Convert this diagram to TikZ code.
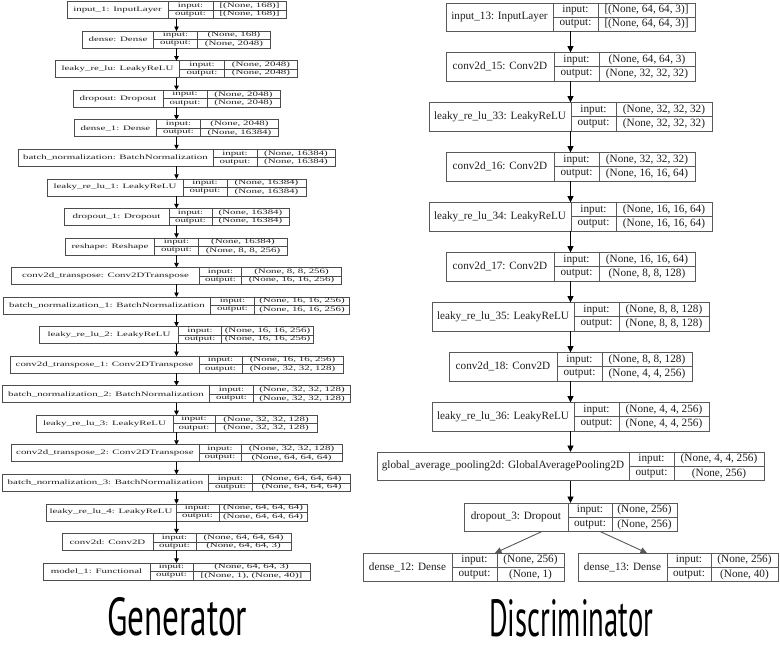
\documentclass[tikz,border=0pt]{standalone}
\usepackage{fontspec}
\usepackage{graphicx}
\setmainfont{Liberation Serif}
\newfontfamily\handfont{PT Sans}
\usetikzlibrary{arrows.meta,fit,calc}

\newcommand\tscale{1}
\newcommand\tfont{\fontsize{11}{12}\selectfont}
% #1 id, #2 centre x, #3 name width, #4 label width, #5 value width, #6 top y, #7 height, #8 name text
\newcommand\layer[8]{%
  \pgfmathsetmacro\xa{#2-(#3+#4+#5)/2}%
  \pgfmathsetmacro\xb{\xa+#3}%
  \pgfmathsetmacro\xc{\xb+#4}%
  \pgfmathsetmacro\xd{\xc+#5}%
  \pgfmathsetmacro\yt{#6}%
  \pgfmathsetmacro\yb{#6+#7}%
  \pgfmathsetmacro\ym{#6+#7/2}%
  \node[box, fit={(\xa,\yt)(\xd,\yb)}] (#1) {};
  \draw[cell] (\xb,\yt) -- (\xb,\yb) (\xc,\yt) -- (\xc,\yb) (\xb,\ym) -- (\xd,\ym);
  \node[txt] (#1-name) at ({(\xa+\xb)/2},\ym) {\scalebox{1}[\tscale]{#8}};
}
% #1 id, #2 input value, #3 output value
\newcommand\io[3]{%
  \node[txt] (#1-inl)  at ({(\xb+\xc)/2},{(\yt+\ym)/2}) {\scalebox{1}[\tscale]{input:}};
  \node[txt] (#1-outl) at ({(\xb+\xc)/2},{(\ym+\yb)/2}) {\scalebox{1}[\tscale]{output:}};
  \node[txt] (#1-in)   at ({(\xc+\xd)/2},{(\yt+\ym)/2}) {\scalebox{1}[\tscale]{#2}};
  \node[txt] (#1-out)  at ({(\xc+\xd)/2},{(\ym+\yb)/2}) {\scalebox{1}[\tscale]{#3}};
}

\begin{document}
\begin{tikzpicture}[x=1pt,y=-1pt,
  txt/.style={inner sep=0pt, text=black!88, font=\tfont},
  title/.style={inner sep=0pt, anchor=south west, font=\handfont}]
\useasboundingbox (0,0) rectangle (780,653);
\fill[white] (0,0) rectangle (780,653);

% ---------------- Generator ----------------
\renewcommand\tscale{0.62}
\renewcommand\tfont{\fontsize{10.9}{11}\selectfont}
\tikzset{
  box/.style={draw=black!70, line width=0.6pt, inner sep=0pt, outer sep=0pt},
  cell/.style={draw=black!70, line width=0.6pt},
  arr/.style={-{Triangle[length=4.5pt,width=4.5pt]}, line width=0.7pt, draw=black}}

\layer{g1}{176.5}{101}{45}{73}{1.5}{17}{input\_1: InputLayer}
\io{g1}{[(None, 168)]}{[(None, 168)]}
\layer{g2}{176.5}{71}{44}{73}{31.05}{17}{dense: Dense}
\io{g2}{(None, 168)}{(None, 2048)}
\layer{g3}{176.5}{124}{45}{73}{60.6}{17}{leaky\_re\_lu: LeakyReLU}
\io{g3}{(None, 2048)}{(None, 2048)}
\layer{g4}{176.5}{90}{44}{73}{90.15}{17}{dropout: Dropout}
\io{g4}{(None, 2048)}{(None, 2048)}
\layer{g5}{176.5}{82}{44}{78}{119.7}{17}{dense\_1: Dense}
\io{g5}{(None, 2048)}{(None, 16384)}
\layer{g6}{176.5}{195}{44}{78}{149.25}{17}{batch\_normalization: BatchNormalization}
\io{g6}{(None, 16384)}{(None, 16384)}
\layer{g7}{176.5}{136}{44}{79}{178.8}{17}{leaky\_re\_lu\_1: LeakyReLU}
\io{g7}{(None, 16384)}{(None, 16384)}
\layer{g8}{176.5}{105}{43}{77}{208.35}{17}{dropout\_1: Dropout}
\io{g8}{(None, 16384)}{(None, 16384)}
\layer{g9}{176.5}{89}{44}{89}{237.9}{17}{reshape: Reshape}
\io{g9}{(None, 16384)}{(None, 8, 8, 256)}
\layer{g10}{176.5}{188}{42}{100}{267.45}{17}{conv2d\_transpose: Conv2DTranspose}
\io{g10}{(None, 8, 8, 256)}{(None, 16, 16, 256)}
\layer{g11}{176.5}{207}{44}{95}{297}{17}{batch\_normalization\_1: BatchNormalization}
\io{g11}{(None, 16, 16, 256)}{(None, 16, 16, 256)}
\layer{g12}{176.5}{139}{43}{92}{326.55}{17}{leaky\_re\_lu\_2: LeakyReLU}
\io{g12}{(None, 16, 16, 256)}{(None, 16, 16, 256)}
\layer{g13}{176.5}{189}{43}{101}{356.1}{17}{conv2d\_transpose\_1: Conv2DTranspose}
\io{g13}{(None, 16, 16, 256)}{(None, 32, 32, 128)}
\layer{g14}{176.5}{207}{44}{97}{385.65}{17}{batch\_normalization\_2: BatchNormalization}
\io{g14}{(None, 32, 32, 128)}{(None, 32, 32, 128)}
\layer{g15}{176.5}{137}{42}{102}{415.2}{17}{leaky\_re\_lu\_3: LeakyReLU}
\io{g15}{(None, 32, 32, 128)}{(None, 32, 32, 128)}
\layer{g16}{176.5}{188}{42}{101}{444.75}{17}{conv2d\_transpose\_2: Conv2DTranspose}
\io{g16}{(None, 32, 32, 128)}{(None, 64, 64, 64)}
\layer{g17}{176.5}{206}{44}{98}{474.3}{17}{batch\_normalization\_3: BatchNormalization}
\io{g17}{(None, 64, 64, 64)}{(None, 64, 64, 64)}
\layer{g18}{176.5}{130}{43}{88}{503.85}{17}{leaky\_re\_lu\_4: LeakyReLU}
\io{g18}{(None, 64, 64, 64)}{(None, 64, 64, 64)}
\layer{g19}{176.5}{91}{43}{95}{533.4}{17}{conv2d: Conv2D}
\io{g19}{(None, 64, 64, 64)}{(None, 64, 64, 3)}
\layer{g20}{176.5}{107}{43}{117}{562.95}{17}{model\_1: Functional}
\io{g20}{(None, 64, 64, 3)}{[(None, 1), (None, 40)]}

\foreach \a/\b in {g1/g2,g2/g3,g3/g4,g4/g5,g5/g6,g6/g7,g7/g8,g8/g9,g9/g10,g10/g11,
  g11/g12,g12/g13,g13/g14,g14/g15,g15/g16,g16/g17,g17/g18,g18/g19,g19/g20}
  \draw[arr] (\a.south) -- (\b.north);

\node[title] (gtitle) at (107,636) {\resizebox{140pt}{38pt}{Generator}};

% ---------------- Discriminator ----------------
\renewcommand\tscale{1}
\renewcommand\tfont{\fontsize{11.2}{12}\selectfont}
\tikzset{
  box/.style={draw=black!65, line width=0.8pt, inner sep=0pt, outer sep=0pt},
  cell/.style={draw=black!65, line width=0.8pt},
  arr/.style={-{Triangle[length=6.5pt,width=6pt]}, line width=0.9pt, draw=black},
  sarr/.style={-{Triangle[length=6.5pt,width=6pt]}, line width=0.9pt, draw=black!65}}

\layer{d1}{570.5}{107}{45}{97}{3}{28}{input\_13: InputLayer}
\io{d1}{[(None, 64, 64, 3)]}{[(None, 64, 64, 3)]}
\layer{d2}{570.5}{108}{45}{96}{52.5}{28.5}{conv2d\_15: Conv2D}
\io{d2}{(None, 64, 64, 3)}{(None, 32, 32, 32)}
\layer{d3}{570.5}{142}{45}{96}{102.5}{28.5}{leaky\_re\_lu\_33: LeakyReLU}
\io{d3}{(None, 32, 32, 32)}{(None, 32, 32, 32)}
\layer{d4}{570.5}{108}{45}{96}{152.5}{28.5}{conv2d\_16: Conv2D}
\io{d4}{(None, 32, 32, 32)}{(None, 16, 16, 64)}
\layer{d5}{570.5}{142}{45}{96}{202.5}{28.5}{leaky\_re\_lu\_34: LeakyReLU}
\io{d5}{(None, 16, 16, 64)}{(None, 16, 16, 64)}
\layer{d6}{570.5}{108}{45}{96}{252.5}{28.5}{conv2d\_17: Conv2D}
\io{d6}{(None, 16, 16, 64)}{(None, 8, 8, 128)}
\layer{d7}{570.5}{142}{45}{90}{302.5}{28.5}{leaky\_re\_lu\_35: LeakyReLU}
\io{d7}{(None, 8, 8, 128)}{(None, 8, 8, 128)}
\layer{d8}{570.5}{108}{45}{90}{352.5}{28.5}{conv2d\_18: Conv2D}
\io{d8}{(None, 8, 8, 128)}{(None, 4, 4, 256)}
\layer{d9}{570.5}{142}{45}{90}{402.5}{28.5}{leaky\_re\_lu\_36: LeakyReLU}
\io{d9}{(None, 4, 4, 256)}{(None, 4, 4, 256)}
\layer{d10}{570.5}{252}{45}{90}{452}{28.5}{global\_average\_pooling2d: GlobalAveragePooling2D}
\io{d10}{(None, 4, 4, 256)}{(None, 256)}
\layer{d11}{570.5}{104}{44}{65}{503}{28.5}{dropout\_3: Dropout}
\io{d11}{(None, 256)}{(None, 256)}
\layer{d12}{463.5}{89}{45}{67}{553}{28.5}{dense\_12: Dense}
\io{d12}{(None, 256)}{(None, 1)}
\layer{d13}{678}{89}{44}{67}{553}{28.5}{dense\_13: Dense}
\io{d13}{(None, 256)}{(None, 40)}

\foreach \a/\b in {d1/d2,d2/d3,d3/d4,d4/d5,d5/d6,d6/d7,d7/d8,d8/d9,d9/d10,d10/d11}
  \draw[arr] (\a.south) -- (\b.north);
\draw[sarr] ($(d11.south)+(-28.5,0)$) -- ($(d12.north)+(31.5,0)$);
\draw[sarr] ($(d11.south)+(29.5,0)$) -- ($(d13.north)+(-31,0)$);

\node[title] (dtitle) at (489,637) {\resizebox{164pt}{37pt}{Discriminator}};
\end{tikzpicture}
\end{document}
